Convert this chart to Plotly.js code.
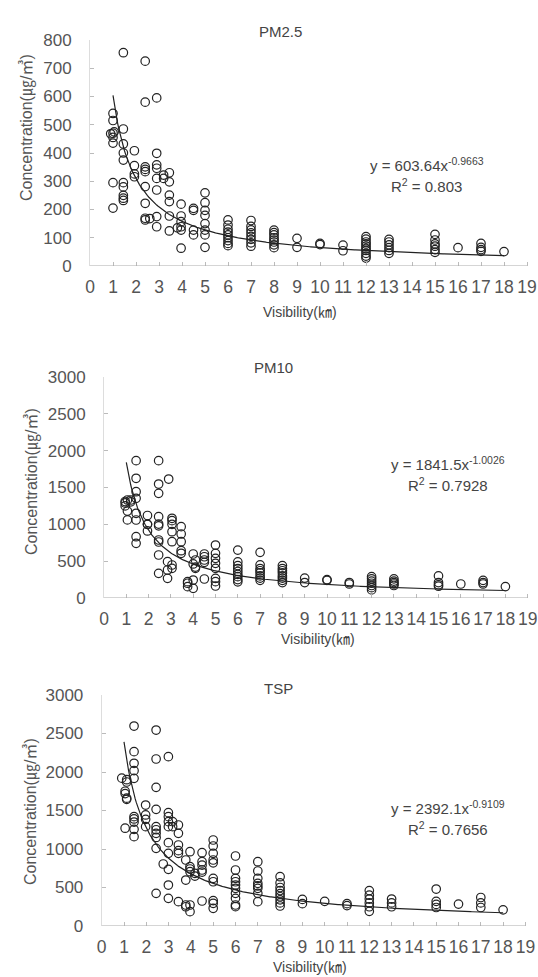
<!DOCTYPE html>
<html>
<head>
<meta charset="utf-8">
<script src="https://cdn.plot.ly/plotly-3.0.1.min.js"></script>
<style>html,body{margin:0;padding:0;background:#fff;}#chart{width:538px;height:977px;}</style>
</head>
<body>
<div id="chart"></div>
<script>
// ---------- DATA ----------
var xTicks = [0,1,2,3,4,5,6,7,8,9,10,11,12,13,14,15,16,17,18,19];
var panelTitles = ["PM2.5", "PM10", "TSP"];
var xTitle = "Visibility(㎞)";
var yTitle = "Concentration(㎍/㎥)";

// PM2.5 : column x positions and the concentrations observed at each
var pm25ColX = [0.9, 1.0, 1.05, 1.45, 1.93, 2.4, 2.6, 2.9, 3.2, 3.45, 3.8, 3.96, 4.5, 5, 6, 7, 8, 9, 10, 11, 12, 13, 15, 16, 17, 18];
var pm25ColY = [
  [468], [540, 515, 470, 455, 435, 295, 205], [475],
  [755, 485, 432, 400, 375, 295, 280, 250, 240, 232],
  [408, 355, 326, 316],
  [725, 580, 351, 342, 334, 281, 222, 169, 163],
  [168],
  [595, 399, 358, 346, 310, 269, 175, 139],
  [322, 310],
  [330, 298, 251, 228, 177, 124],
  [135],
  [219, 177, 157, 139, 127, 63],
  [204, 197, 127, 110],
  [259, 224, 197, 179, 150, 127, 110, 66],
  [163, 145, 130, 120, 110, 100, 90, 80, 72],
  [161, 140, 128, 117, 105, 94, 82, 70],
  [127, 118, 110, 100, 92, 85, 75, 65],
  [98, 66],
  [80, 76],
  [74, 54],
  [104, 95, 85, 78, 70, 62, 55, 45, 35, 28],
  [94, 85, 75, 65, 55, 45],
  [112, 92, 78, 70, 58, 48],
  [65],
  [80, 66, 58, 52],
  [51]
];

// PM10
var pm10ColX = [0.95, 1.05, 1.2, 1.44, 1.95, 2.45, 2.85, 2.9, 3.05, 3.46, 3.75, 4.0, 4.1, 4.5, 5, 6, 7, 8, 9, 10, 11, 12, 13, 15, 16, 17, 18];
var pm10ColY = [
  [1310, 1290, 1250],
  [1330, 1180, 1060],
  [1330, 1305],
  [1864, 1625, 1443, 1353, 1150, 1059, 832, 742],
  [1120, 1000, 1000, 910],
  [1864, 1547, 1421, 1104, 1004, 980, 787, 760, 584, 335],
  [493, 380, 267],
  [1615],
  [1082, 1050, 1000, 900, 764, 448, 403],
  [968, 869, 764, 642, 607],
  [222, 200, 154],
  [597, 462, 244, 131],
  [516, 403, 420],
  [597, 560, 516, 484, 258],
  [719, 606, 538, 471, 403, 267, 222, 163],
  [650, 490, 440, 400, 360, 320, 290, 250, 220],
  [620, 450, 400, 370, 340, 300, 270, 240],
  [440, 400, 370, 340, 300, 270, 240, 210],
  [270, 210],
  [250, 240],
  [210, 190],
  [290, 260, 230, 200, 170, 140, 110],
  [260, 230, 210, 190, 170],
  [300, 210, 180, 160],
  [190],
  [240, 210, 190],
  [155]
];

// TSP
var tspColX = [0.9, 1.05, 1.12, 1.45, 1.97, 2.44, 2.76, 2.99, 3.18, 3.44, 3.77, 3.96, 4.18, 4.5, 5, 6, 7, 8, 9, 10, 11, 12, 13, 15, 16, 17, 18];
var tspColY = [
  [1920],
  [1750, 1720, 1270],
  [1900, 1870, 1660, 1645],
  [2597, 2264, 2113, 2017, 1918, 1420, 1390, 1350, 1255, 1160],
  [1571, 1442, 1385, 1290],
  [2545, 2169, 1801, 1515, 1290, 1250, 1203, 1150, 1009, 424],
  [805],
  [2199, 1472, 1420, 1355, 1290, 1082, 944, 736, 532, 359],
  [1355, 1290],
  [1312, 1203, 1052, 978, 944, 316],
  [857, 597, 273, 250],
  [965, 770, 740, 705, 273, 186],
  [684, 649],
  [952, 835, 790, 727, 700, 325],
  [1117, 1039, 944, 857, 820, 619, 575, 329, 295, 230],
  [909, 727, 619, 575, 532, 489, 424, 359, 273, 251],
  [835, 714, 619, 554, 520, 489, 424, 316],
  [640, 560, 500, 460, 420, 380, 340, 300, 260],
  [345, 290],
  [320],
  [290, 265],
  [460, 400, 350, 300, 250, 190],
  [350, 300, 250],
  [480, 320, 280, 240],
  [285],
  [370, 300, 240],
  [210]
];

// Power-law fits printed on the chart: y = a * x^b
var fitA = [603.64, 1841.5, 2392.1];
var fitB = [-0.9663, -1.0026, -0.9109];
var fitR2 = ["0.803", "0.7928", "0.7656"];
var fitXStart = 1, fitXEnd = 18;

// ---------- BUILD ----------
var W = 538, H = 977;
function fx(px){ return px / W; }
function fy(py){ return 1 - py / H; }

function expand(colX, colY){
  var xs = [], ys = [];
  for (var i = 0; i < colX.length; i++){
    for (var j = 0; j < colY[i].length; j++){ xs.push(colX[i]); ys.push(colY[i][j]); }
  }
  return {x: xs, y: ys};
}
function fitCurve(a, b){
  var xs = [], ys = [];
  for (var x = fitXStart; x <= fitXEnd + 1e-9; x += 0.05){ xs.push(x); ys.push(a * Math.pow(x, b)); }
  return {x: xs, y: ys};
}

var sets = [expand(pm25ColX, pm25ColY), expand(pm10ColX, pm10ColY), expand(tspColX, tspColY)];
var axSuffix = ["", "2", "3"];

// pixel geometry of each panel: [x of 0, px per unit, y of 0, y of max]
var geom = [[90, 23.0, 266, 40], [104, 22.3, 598, 377], [101.7, 22.3, 926, 695]];
var xMax = 19.15;
var yMax = [800, 3000, 3000];
var yDtick = [100, 500, 500];

var traces = [];
for (var k = 0; k < 3; k++){
  var xa = "x" + axSuffix[k], ya = "y" + axSuffix[k];
  traces.push({
    type: "scatter", mode: "markers", x: sets[k].x, y: sets[k].y, xaxis: xa, yaxis: ya,
    marker: {symbol: "circle-open", size: 8.5, color: "#222", line: {width: 1.2, color: "#222"}},
    cliponaxis: false, showlegend: false, hoverinfo: "x+y"
  });
  var fc = fitCurve(fitA[k], fitB[k]);
  traces.push({
    type: "scatter", mode: "lines", x: fc.x, y: fc.y, xaxis: xa, yaxis: ya,
    line: {color: "#222", width: 1.2}, showlegend: false, hoverinfo: "skip"
  });
}

var tickFontX = {family: "Liberation Sans, Arial, sans-serif", size: 17.5, color: "#555"};
var tickFontY = {family: "Liberation Sans, Arial, sans-serif", size: 17, color: "#555"};
var layout = {
  width: W, height: H, margin: {l: 0, r: 0, t: 0, b: 0},
  paper_bgcolor: "#fff", plot_bgcolor: "#fff", showlegend: false,
  annotations: [], font: {family: "Liberation Sans, Arial, sans-serif", color: "#444"}
};
for (var k = 0; k < 3; k++){
  var g = geom[k];
  layout["xaxis" + axSuffix[k]] = {
    domain: [fx(g[0]), Math.min(1, fx(g[0] + g[1] * xMax))], range: [0, xMax], anchor: "y" + axSuffix[k],
    tickmode: "array", tickvals: xTicks, ticktext: xTicks.map(String), tickangle: 0,
    ticklabeloverflow: "allow",
    showgrid: false, zeroline: false, showline: false,
    ticks: "inside", ticklen: 4, tickcolor: "#bbb", tickfont: tickFontX, ticklabelstandoff: 8
  };
  layout["yaxis" + axSuffix[k]] = {
    domain: [fy(g[2]), fy(g[3])], range: [0, yMax[k]], anchor: "x" + axSuffix[k],
    dtick: yDtick[k], tick0: 0, showgrid: false, zeroline: false, showline: true, linecolor: "#ddd", linewidth: 1,
    ticks: "inside", ticklen: 4, tickcolor: "#bbb", tickfont: tickFontY, ticklabelstandoff: 14
  };
}

// x-axis base lines (from 0 to 19) drawn as axis-referenced shapes
layout.shapes = [];
for (var k = 0; k < 3; k++){
  layout.shapes.push({type: "line", xref: "x" + axSuffix[k], yref: "y" + axSuffix[k],
    x0: 0, x1: 19, y0: 0, y1: 0, line: {color: "#aaa", width: 1}});
}

var titlePos = [[280, 32], [273, 367], [278, 688]];
var xTitlePos = [[300, 312], [318, 639], [310, 967]];
var yTitlePos = [[27, 128], [32, 482], [31, 812]];
var eqPos = [[427, 164, 186], [448, 463, 484], [448, 807, 828]];
for (var k = 0; k < 3; k++){
  layout.annotations.push({xref: "paper", yref: "paper", x: fx(titlePos[k][0]), y: fy(titlePos[k][1]),
    text: panelTitles[k], showarrow: false, xanchor: "center", yanchor: "middle",
    font: {size: 15, color: "#444", family: "Liberation Sans, Arial, sans-serif"}});
  layout.annotations.push({xref: "paper", yref: "paper", x: fx(xTitlePos[k][0]), y: fy(xTitlePos[k][1]),
    text: xTitle, showarrow: false, xanchor: "center", yanchor: "middle",
    font: {size: 14, color: "#444", family: "Liberation Sans, Noto Sans CJK KR, sans-serif"}});
  layout.annotations.push({xref: "paper", yref: "paper", x: fx(yTitlePos[k][0]), y: fy(yTitlePos[k][1]),
    text: yTitle, showarrow: false, xanchor: "center", yanchor: "middle", textangle: -90,
    font: {size: 16, color: "#555", family: "Liberation Sans, Noto Sans CJK KR, sans-serif"}});
  layout.annotations.push({xref: "paper", yref: "paper", x: fx(eqPos[k][0]), y: fy(eqPos[k][1]),
    text: "y = " + fitA[k] + "x<sup>" + fitB[k] + "</sup>", showarrow: false, xanchor: "center", yanchor: "middle",
    font: {size: 15, color: "#444", family: "Liberation Sans, Arial, sans-serif"}});
  layout.annotations.push({xref: "paper", yref: "paper", x: fx(eqPos[k][0]), y: fy(eqPos[k][2]),
    text: "R<sup>2</sup> = " + fitR2[k], showarrow: false, xanchor: "center", yanchor: "middle",
    font: {size: 15, color: "#444", family: "Liberation Sans, Arial, sans-serif"}});
}

Plotly.newPlot("chart", traces, layout, {displayModeBar: false, staticPlot: true});
</script>
</body>
</html>
